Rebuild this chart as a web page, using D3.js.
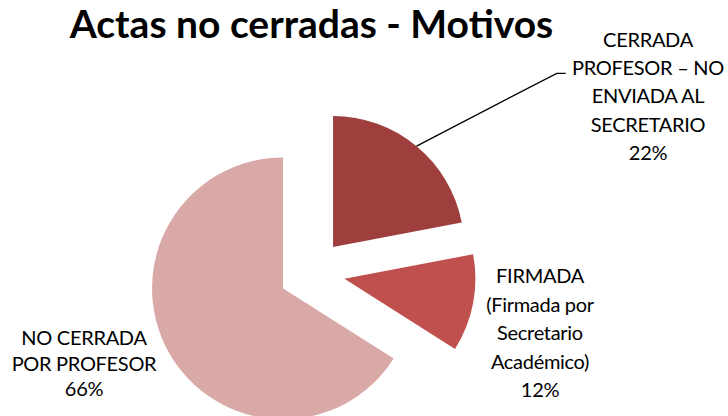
<!DOCTYPE html>
<html>
<head>
<meta charset="utf-8">
<script src="https://cdn.jsdelivr.net/npm/d3@7"></script>
<style>
  html, body { margin: 0; padding: 0; background: #fff; }
  svg { display: block; font-family: Lato, "Open Sans", sans-serif; }
</style>
</head>
<body>
<div id="chart"></div>
<script>
// Data
const categories = [
  'CERRADA PROFESOR – NO ENVIADA AL SECRETARIO',
  'FIRMADA (Firmada por Secretario Académico)',
  'NO CERRADA POR PROFESOR'
];
const values = [22, 12, 66];
const labelLines = [
  ['CERRADA', 'PROFESOR – NO', 'ENVIADA AL', 'SECRETARIO'],
  ['FIRMADA', '(Firmada por', 'Secretario', 'Académico)'],
  ['NO CERRADA', 'POR PROFESOR']
];
const colors = ['#9E3F3E', '#C0504D', '#D9A9A8'];

// Layout
const W = 728, H = 416;
const cx = 312, cy = 272.5, radius = 131, explode = 33;
// label anchors (centre x, first baseline, line spacing)
const labelPos = [
  { x: 648, y: 46.5, dy: 28.4 },
  { x: 540, y: 283, dy: 28.6 },
  { x: 84, y: 345, dy: 25.7 }
];

const svg = d3.select('#chart').append('svg')
  .attr('width', W)
  .attr('height', H);

// Title
svg.append('text')
  .attr('x', 311.5)
  .attr('y', 38)
  .attr('text-anchor', 'middle')
  .attr('font-size', 39)
  .attr('font-weight', 'bold')
  .attr('fill', '#000')
  .text('Actas no cerradas - Motivos');

const pie = d3.pie().sort(null).value(d => d)(values);
const arc = d3.arc().innerRadius(0).outerRadius(radius);
const mid = d => (d.startAngle + d.endAngle) / 2;

const g = svg.append('g').attr('transform', `translate(${cx},${cy})`);

g.selectAll('path.slice')
  .data(pie)
  .join('path')
  .attr('class', 'slice')
  .attr('transform', d => `translate(${Math.sin(mid(d)) * explode},${-Math.cos(mid(d)) * explode})`)
  .attr('d', arc)
  .attr('fill', (d, i) => colors[i]);

// Leader line for first slice
const s0 = pie[0];
const ox = Math.sin(mid(s0)) * (explode + radius);
const oy = -Math.cos(mid(s0)) * (explode + radius);
g.append('polyline')
  .attr('points', [[ox, oy], [556.7 - cx, 73.3 - cy], [565.7 - cx, 73.3 - cy]].map(p => p.join(',')).join(' '))
  .attr('fill', 'none')
  .attr('stroke', '#000')
  .attr('stroke-width', 1.3);

// Labels
pie.forEach((d, i) => {
  const pos = labelPos[i];
  const lines = labelLines[i].concat([d3.format('.0f')(d.data) + '%']);
  const t = svg.append('text')
    .attr('text-anchor', 'middle')
    .attr('font-size', 20)
    .attr('letter-spacing', -0.3)
    .attr('fill', '#000');
  lines.forEach((ln, k) => {
    t.append('tspan')
      .attr('x', pos.x)
      .attr('y', pos.y + k * pos.dy)
      .text(ln);
  });
});
</script>
</body>
</html>
